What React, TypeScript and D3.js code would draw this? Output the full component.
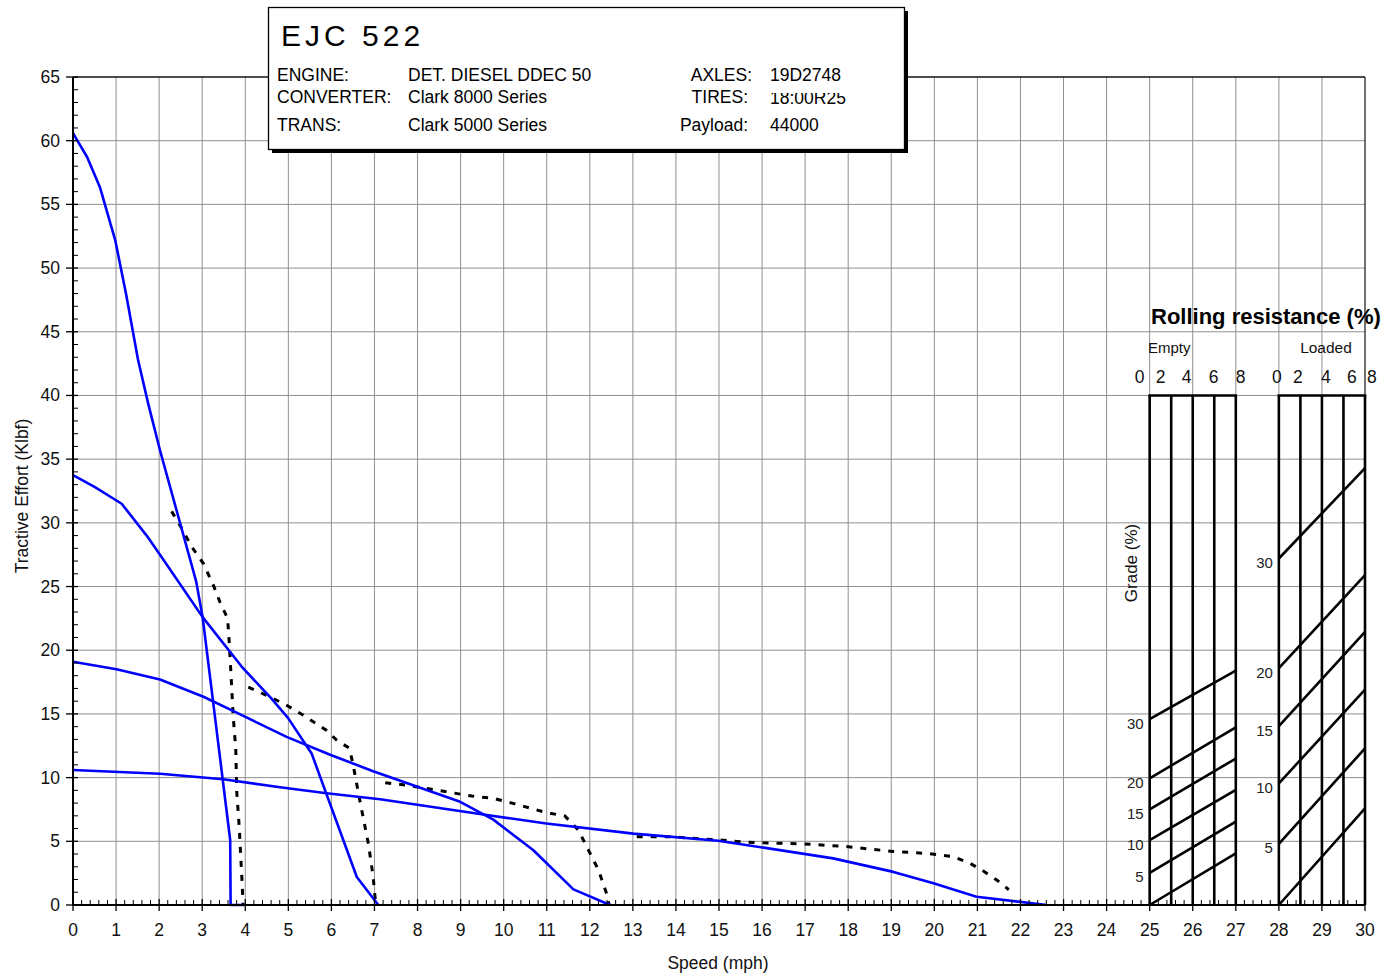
import * as d3 from 'd3';

// axis ticks
const xTicks = [0, 1, 2, 3, 4, 5, 6, 7, 8, 9, 10, 11, 12, 13, 14, 15, 16, 17, 18, 19, 20, 21, 22, 23, 24, 25, 26, 27, 28, 29, 30];
const yTicks = [0, 5, 10, 15, 20, 25, 30, 35, 40, 45, 50, 55, 60, 65];

// tractive effort per gear (blue)
const gear1Speed = [0, 0.33, 0.63, 0.98, 1.23, 1.51, 1.75, 2.02, 2.86, 3.01, 3.65, 3.66, 3.97];
const gear1Effort = [60.6, 58.7, 56.3, 52.2, 48.0, 42.8, 39.3, 35.7, 25.4, 22.6, 5.1, 0, 0];
const gear2Speed = [0, 0.51, 1.13, 1.71, 2.02, 3.01, 3.92, 4.61, 5.0, 5.54, 6.59, 7.09];
const gear2Effort = [33.75, 32.8, 31.5, 29.0, 27.5, 22.6, 18.7, 16.2, 14.65, 11.9, 2.2, 0];
const gear3Speed = [0, 1.01, 2.02, 3.03, 3.92, 4.96, 5.97, 6.97, 8.99, 9.76, 10.69, 11.62, 12.47];
const gear3Effort = [19.1, 18.5, 17.7, 16.35, 14.9, 13.2, 11.8, 10.5, 8.1, 6.7, 4.3, 1.23, 0];
const gear4Speed = [0, 2.02, 3.49, 4.81, 5.89, 7.13, 9.45, 10.99, 13.01, 14.98, 17.65, 19.05, 19.98, 20.98, 22.61];
const gear4Effort = [10.6, 10.3, 9.87, 9.24, 8.77, 8.3, 7.14, 6.4, 5.6, 5.05, 3.66, 2.6, 1.7, 0.65, 0];

// rimpull envelope (black dashed), one piece per gear
const env1Speed = [2.29, 2.52, 2.76, 3.03, 3.26, 3.41, 3.59, 3.63, 3.68, 3.72, 3.78, 3.8, 3.86, 3.92, 3.95];
const env1Effort = [30.9, 29.6, 28.1, 26.8, 25.1, 23.8, 22.5, 20.5, 17.4, 14.8, 12.2, 9.0, 6.1, 2.2, 0];
const env2Speed = [4.07, 4.57, 5.0, 5.35, 5.89, 6.12, 6.42, 6.51, 6.66, 6.86, 6.97, 7.03];
const env2Effort = [17.1, 16.35, 15.6, 14.9, 13.7, 12.95, 12.3, 10.9, 8.2, 4.8, 2.2, 0];
const env3Speed = [7.25, 7.75, 8.48, 9.26, 9.76, 10.22, 10.99, 11.42, 11.73, 11.97, 12.2, 12.39, 12.45];
const env3Effort = [9.6, 9.4, 9.0, 8.55, 8.37, 7.98, 7.25, 6.99, 5.9, 4.3, 2.75, 0.9, 0];
const env4Speed = [13.09, 13.86, 15.02, 15.79, 16.95, 17.92, 19.05, 19.82, 20.44, 20.83, 21.1, 21.45, 21.73];
const env4Effort = [5.36, 5.36, 5.1, 4.9, 4.8, 4.6, 4.2, 4.05, 3.8, 3.27, 2.75, 1.96, 1.2];

// rolling resistance nomogram
const rrTicks = [0, 2, 4, 6, 8];
const gradeValues = [0, 5, 10, 15, 20, 30];
const emptyStart = [0, 2.53, 5.1, 7.5, 9.94, 14.6];
const emptyEnd = [4.06, 6.54, 9.03, 11.5, 13.95, 18.4];
const loadedStart = [0, 4.79, 9.55, 14.05, 18.6, 27.2];
const loadedEnd = [7.59, 12.3, 16.9, 21.45, 25.9, 34.3];
const emptySpan = [25, 27];
const loadedSpan = [28, 30];
const boxTop = 40;

// title block
const titleText = 'EJC 522';
const leftLabels = ['ENGINE:', 'CONVERTER:', 'TRANS:'];
const leftValues = ['DET. DIESEL DDEC 50', 'Clark 8000 Series', 'Clark 5000 Series'];
const rightLabels = ['AXLES:', 'TIRES:', 'Payload:'];
const rightValues = ['19D2748', '18:00R25', '44000'];

const FONT = '"Liberation Sans", Arial, Helvetica, sans-serif';

const x = d3.scaleLinear().domain([0, 30]).range([73, 1365]);
const y = d3.scaleLinear().domain([0, 65]).range([905, 77]);

const line = d3
  .line<[number, number]>()
  .x((d) => x(d[0]))
  .y((d) => y(d[1]));

const zip = (s: number[], e: number[]) => s.map((v, i) => [v, e[i]] as [number, number]);

const gears = [
  zip(gear1Speed, gear1Effort),
  zip(gear2Speed, gear2Effort),
  zip(gear3Speed, gear3Effort),
  zip(gear4Speed, gear4Effort),
];
const envelope = [
  zip(env1Speed, env1Effort),
  zip(env2Speed, env2Effort),
  zip(env3Speed, env3Effort),
  zip(env4Speed, env4Effort),
];

const xMinor = d3.range(0, 150).map((i) => i * 0.2).filter((v) => Math.abs(v - Math.round(v)) > 0.01);
const yMinor = d3.range(0, 66).filter((v) => v % 5 !== 0);

function Nomogram({ span, start, end, labelDx }: { span: number[]; start: number[]; end: number[]; labelDx: number[] }) {
  const x0 = x(span[0]);
  const width = span[1] - span[0];
  return (
    <g>
      {rrTicks.map((t) => (
        <line
          key={'v' + t}
          x1={x(span[0] + (t / 8) * width)}
          x2={x(span[0] + (t / 8) * width)}
          y1={y(0)}
          y2={y(boxTop)}
          stroke="#000"
          strokeWidth={2.6}
        />
      ))}
      <line x1={x(span[0]) - 1.3} x2={x(span[1]) + 1.3} y1={y(boxTop)} y2={y(boxTop)} stroke="#000" strokeWidth={2.6} />
      {gradeValues.map((g, i) => (
        <line key={'g' + g} x1={x(span[0])} x2={x(span[1])} y1={y(start[i])} y2={y(end[i])} stroke="#000" strokeWidth={2.6} />
      ))}
      {gradeValues.map((g, i) =>
        g === 0 ? null : (
          <text key={'gl' + g} x={x0 - 6} y={y(start[i]) + 4} textAnchor="end" dominantBaseline="central" fontSize={15} fill="#222">
            {g}
          </text>
        )
      )}
      {rrTicks.map((t, i) => (
        <text key={'rl' + t} x={x0 + labelDx[i]} y={377} textAnchor="middle" dominantBaseline="central" fontSize={17.5} fill="#111">
          {t}
        </text>
      ))}
    </g>
  );
}

export default function App() {
  return (
    <svg width={1388} height={977} style={{ position: 'absolute', left: 0, top: 0, fontFamily: FONT }}>
      <rect width={1388} height={977} fill="#fff" />
      <defs>
        <clipPath id="tiresClip">
          <rect x={760} y={93} width={120} height={20} />
        </clipPath>
      </defs>

      {/* grid */}
      {xTicks.slice(1, -1).map((t) => (
        <line key={'gx' + t} x1={x(t)} x2={x(t)} y1={y(0)} y2={y(65)} stroke="#8f8f8f" strokeWidth={1} />
      ))}
      {yTicks.slice(1, -1).map((t) => (
        <line key={'gy' + t} x1={x(0)} x2={x(30)} y1={y(t)} y2={y(t)} stroke="#8f8f8f" strokeWidth={1} />
      ))}
      {/* frame top/right */}
      <line x1={x(0)} x2={x(30)} y1={y(65)} y2={y(65)} stroke="#111" strokeWidth={1.6} />
      <line x1={x(30)} x2={x(30)} y1={y(65)} y2={y(0)} stroke="#111" strokeWidth={1.2} />

      {/* rolling resistance nomogram */}
      <Nomogram span={emptySpan} start={emptyStart} end={emptyEnd} labelDx={[-10, 11, 37, 64, 91]} />
      <Nomogram span={loadedSpan} start={loadedStart} end={loadedEnd} labelDx={[-2, 19, 47, 73, 93]} />
      <text x={1151} y={316} dominantBaseline="central" fontSize={22} fontWeight="bold" fill="#000">
        Rolling resistance (%)
      </text>
      <text x={1148} y={347} dominantBaseline="central" fontSize={15} fill="#111">
        Empty
      </text>
      <text x={1326} y={347} textAnchor="middle" dominantBaseline="central" fontSize={15.5} fill="#111">
        Loaded
      </text>
      <text transform="translate(1131,563) rotate(-90)" textAnchor="middle" dominantBaseline="central" fontSize={17} fill="#111">
        Grade (%)
      </text>

      {/* curves */}
      {envelope.map((d, i) => (
        <path key={'e' + i} d={line(d) || ''} fill="none" stroke="#000" strokeWidth={3} strokeDasharray="6 8" />
      ))}
      {gears.map((d, i) => (
        <path key={'c' + i} d={line(d) || ''} fill="none" stroke="#0000ff" strokeWidth={2.6} strokeLinejoin="round" />
      ))}

      {/* axes */}
      <line x1={x(0)} x2={x(30)} y1={y(0)} y2={y(0)} stroke="#000" strokeWidth={2} />
      <line x1={x(0)} x2={x(0)} y1={y(0) + 1} y2={y(65)} stroke="#000" strokeWidth={2} />
      {xMinor.map((t) => (
        <line key={'xm' + t} x1={x(t)} x2={x(t)} y1={y(0)} y2={y(0) - 5} stroke="#000" strokeWidth={1} />
      ))}
      {xTicks.map((t) => (
        <line key={'xt' + t} x1={x(t)} x2={x(t)} y1={y(0) - 6} y2={y(0) + 6} stroke="#000" strokeWidth={1.3} />
      ))}
      {yMinor.map((t) => (
        <line key={'ym' + t} x1={x(0)} x2={x(0) + 5} y1={y(t)} y2={y(t)} stroke="#000" strokeWidth={1} />
      ))}
      {yTicks.map((t) => (
        <line key={'yt' + t} x1={x(0) - 7} x2={x(0) + 5} y1={y(t)} y2={y(t)} stroke="#000" strokeWidth={1.3} />
      ))}
      {xTicks.map((t) => (
        <text key={'xl' + t} x={x(t)} y={930} textAnchor="middle" dominantBaseline="central" fontSize={17.5} fill="#111">
          {t}
        </text>
      ))}
      {yTicks.map((t) => (
        <text key={'yl' + t} x={60} y={y(t)} textAnchor="end" dominantBaseline="central" fontSize={17.5} fill="#111">
          {t}
        </text>
      ))}
      <text x={718} y={963} textAnchor="middle" dominantBaseline="central" fontSize={17.5} fill="#111">
        Speed (mph)
      </text>
      <text transform="translate(22,496) rotate(-90)" textAnchor="middle" dominantBaseline="central" fontSize={17.5} fill="#111">
        Tractive Effort (Klbf)
      </text>

      {/* title block */}
      <rect x={272} y={11} width={636} height={142} fill="#000" />
      <rect x={268.5} y={7.5} width={636} height={142} fill="#fff" stroke="#000" strokeWidth={1.3} />
      <text x={281} y={35} dominantBaseline="central" fontSize={30} letterSpacing={4} fill="#000">
        {titleText}
      </text>
      {leftLabels.map((t, i) => (
        <text key={'ll' + i} x={277} y={[75, 97, 125][i]} dominantBaseline="central" fontSize={17.5} fill="#000">
          {t}
        </text>
      ))}
      {leftValues.map((t, i) => (
        <text key={'lv' + i} x={408} y={[75, 97, 125][i]} dominantBaseline="central" fontSize={17.5} fill="#000">
          {t}
        </text>
      ))}
      {rightLabels.map((t, i) => (
        <text key={'rl' + i} x={[752, 748, 748][i]} y={[75, 97, 125][i]} textAnchor="end" dominantBaseline="central" fontSize={17.5} fill="#000">
          {t}
        </text>
      ))}
      {rightValues.map((t, i) => (
        <text
          key={'rv' + i}
          x={770}
          y={[75, 98, 125][i]}
          dominantBaseline="central"
          fontSize={17.5}
          fill="#000"
          clipPath={i === 1 ? 'url(#tiresClip)' : undefined}
        >
          {t}
        </text>
      ))}
    </svg>
  );
}
